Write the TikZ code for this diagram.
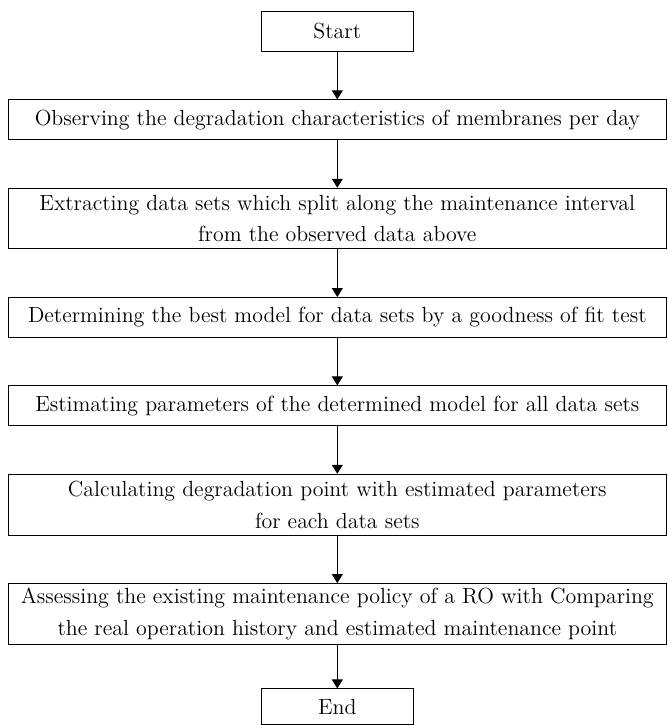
\documentclass[tikz,border=0pt]{standalone}
\usepackage{tikz}
\usetikzlibrary{arrows.meta,positioning}

\begin{document}
\begin{tikzpicture}[>={Triangle[width=5.5pt,length=4.5pt]},node distance=24pt]
  \tikzstyle{stage}=[draw,thin,minimum width=330.5pt,minimum height=20pt,inner sep=2pt,align=center,font=\fontsize{11}{16}\selectfont]
  \tikzstyle{term}=[draw,thin,minimum width=76pt,minimum height=20pt,inner sep=2pt,font=\fontsize{11}{16}\selectfont]
  \node[term] (start) {Start};
  \node[stage,below=of start] (observe) {Observing the degradation characteristics of membranes per day};
  \node[stage,minimum height=30.5pt,below=of observe] (extract) {Extracting data sets which split along the maintenance interval\\from the observed data above};
  \node[stage,below=of extract] (model) {Determining the best model for data sets by a goodness of fit test};
  \node[stage,below=of model] (param) {Estimating parameters of the determined model for all data sets};
  \node[stage,minimum height=30.5pt,below=of param] (calc) {Calculating degradation point with estimated parameters\\for each data sets};
  \node[stage,minimum height=30.5pt,below=of calc] (assess) {Assessing the existing maintenance policy of a RO with Comparing\\the real operation history and estimated maintenance point};
  \node[term,minimum height=18pt,below=22pt of assess] (end) {End};
  \draw[thin,->] (start) -- (observe);
  \draw[thin,->] (observe) -- (extract);
  \draw[thin,->] (extract) -- (model);
  \draw[thin,->] (model) -- (param);
  \draw[thin,->] (param) -- (calc);
  \draw[thin,->] (calc) -- (assess);
  \draw[thin,->] (assess) -- (end);
  % page margins as in the figure
  \path (observe.west |- start.north) ++(-4pt,5.5pt) coordinate (nw);
  \path (observe.east |- end.south) ++(0.5pt,-0.5pt) coordinate (se);
  \useasboundingbox (nw) rectangle (se);
\end{tikzpicture}
\end{document}
